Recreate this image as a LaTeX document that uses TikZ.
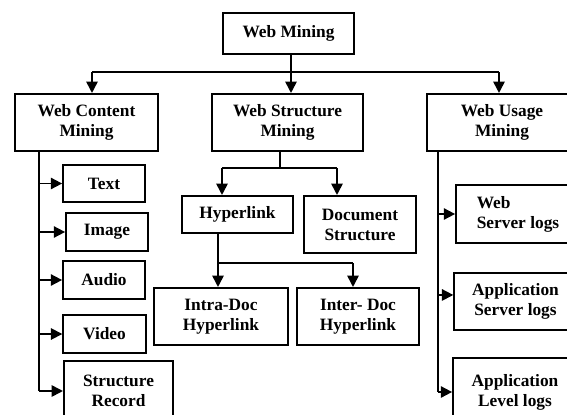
\documentclass[tikz,border=0pt]{standalone}
\usepackage{fontspec}
\setmainfont{Liberation Serif}
\usetikzlibrary{arrows.meta}

\tikzset{
	box/.style={draw, line width=1.3pt, align=center, inner sep=2pt,
		font=\bfseries\fontsize{13}{15}\selectfont},
	arr/.style={line width=1.3pt, -{Triangle[length=8.5pt,width=8.5pt]}},
	lnk/.style={line width=1.3pt}}

\begin{document}
\begin{tikzpicture}[x=0.75pt,y=0.75pt,yscale=-1,xscale=1]
	\useasboundingbox (0,0) rectangle (567,414);

	% top level
	\node[box, minimum width=98pt, minimum height=31pt] (wm) at (288.5,33.5) {Web Mining};
	\node[box, minimum width=107pt, minimum height=43pt] (wcm) at (86.5,122.5) {Web Content\\Mining};
	\node[box, minimum width=113pt, minimum height=43pt] (wsm) at (287.5,122.5) {Web Structure\\Mining};
	\node[box, minimum width=112pt, minimum height=43pt] (wum) at (502,122.5) {Web Usage\\Mining};

	% content mining leaves
	\node[box, minimum width=61.5pt, minimum height=28pt] (txt) at (104,183.5) {Text};
	\node[box, minimum width=61.5pt, minimum height=28pt] (img) at (107,232) {Image};
	\node[box, minimum width=61.5pt, minimum height=28pt] (aud) at (104,280) {Audio};
	\node[box, minimum width=62pt, minimum height=28pt] (vid) at (104.5,334) {Video};
	\node[box, minimum width=82pt, minimum height=45pt] (rec) at (118.5,391) {Structure\\Record};

	% structure mining leaves
	\node[box, minimum width=83pt, minimum height=28pt] (hl) at (237.5,214.5) {Hyperlink};
	\node[box, minimum width=84pt, minimum height=43pt] (ds) at (360,224.5) {Document\\Structure};
	\node[box, minimum width=100pt, minimum height=43pt] (intra) at (221,316.5) {Intra-Doc\\Hyperlink};
	\node[box, minimum width=91.5pt, minimum height=43pt] (inter) at (358,316.5) {Inter- Doc\\Hyperlink};

	% usage mining leaves
	\node[box, minimum width=93pt, minimum height=43.5pt] (ws) at (518,214) {\begin{tabular}{@{}l@{}}Web\\Server logs\end{tabular}};
	\node[box, minimum width=92pt, minimum height=43pt] (as) at (515.5,301.5) {Application\\Server logs};
	\node[box, minimum width=93pt, minimum height=51pt] (al) at (515,392) {Application\\Level logs};

	% junction points
	\coordinate (tl) at (92,72);
	\coordinate (tm) at (291,72);
	\coordinate (tr) at (499,72);
	\coordinate (cs) at (39,0);
	\coordinate (us) at (438,0);
	\coordinate (sb) at (280,168);
	\coordinate (sl) at (222,168);
	\coordinate (sr) at (337,168);
	\coordinate (hb) at (218,263);
	\coordinate (hr) at (353,263);

	% web mining branches
	\draw[lnk] (tl) -- (tr);
	\draw[arr] (wm.south -| tm) -- (wsm.north -| tm);
	\draw[arr] (tl) -- (wcm.north -| tl);
	\draw[arr] (tr) -- (wum.north -| tr);

	% content mining
	\draw[lnk] (wcm.south -| cs) -- (rec.west -| cs);
	\foreach \n in {txt,img,aud,vid,rec}
		\draw[arr] (\n.west -| cs) -- (\n.west);

	% structure mining
	\draw[lnk] (wsm.south -| sb) -- (sb);
	\draw[lnk] (sl) -- (sr);
	\draw[arr] (sl) -- (hl.north -| sl);
	\draw[arr] (sr) -- (ds.north -| sr);
	\draw[arr] (hl.south -| hb) -- (intra.north -| hb);
	\draw[lnk] (hb) -- (hr);
	\draw[arr] (hr) -- (inter.north -| hr);

	% usage mining
	\draw[lnk] (wum.south -| us) -- (al.west -| us);
	\draw[arr] (ws.west -| us) -- (ws.west);
	\draw[arr] ([yshift=-4.9pt]as.west -| us) -- ([yshift=-4.9pt]as.west);
	\draw[arr] (al.west -| us) -- (al.west);

\end{tikzpicture}
\end{document}
